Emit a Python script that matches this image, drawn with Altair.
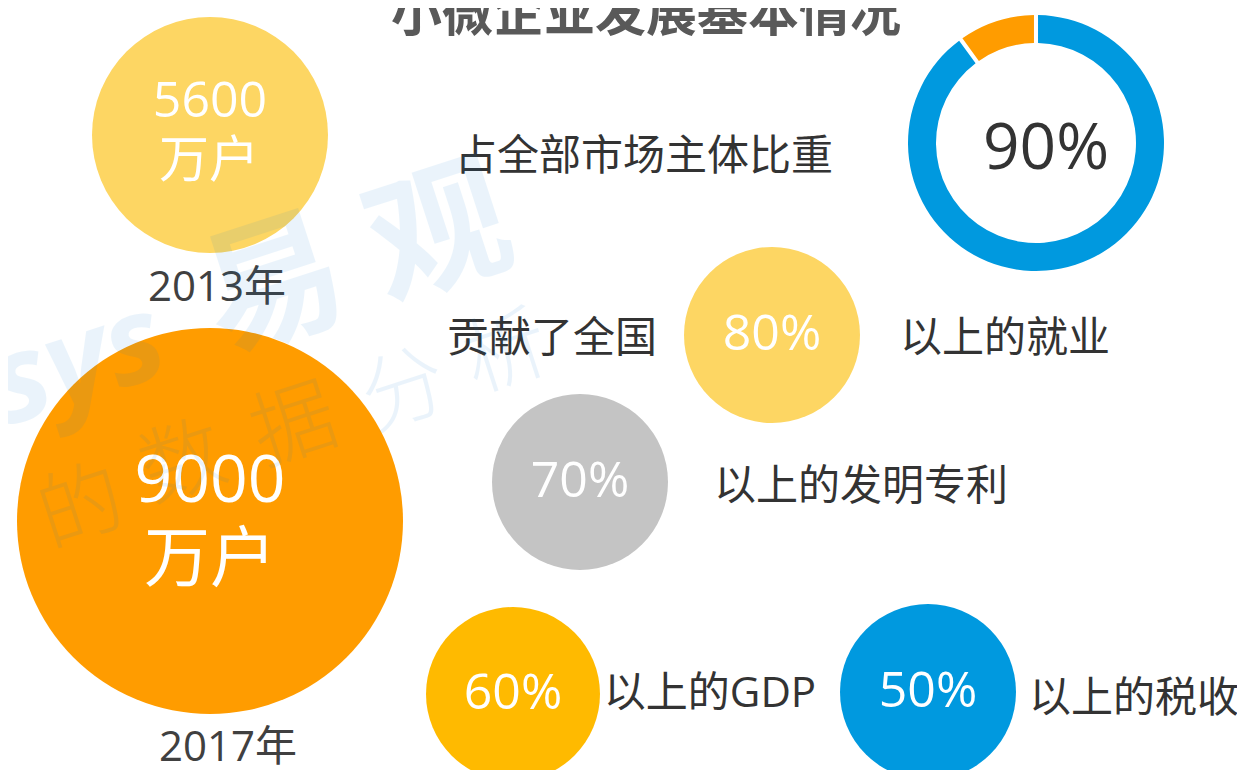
import altair as alt
import pandas as pd

# ---------------- values ----------------
TITLE = "小微企业发展基本情况"
YEARS = ["2013年", "2017年"]
FIRMS = ["5600", "9000"]
UNIT = "万户"
SHARE_LABEL = "占全部市场主体比重"
SHARE = [90, 10]
SHARE_TEXT = "90%"
CONTRIB_PREFIX = "贡献了全国"
CONTRIB_PCT = ["80%", "70%", "60%", "50%"]
CONTRIB_ITEM = ["以上的就业", "以上的发明专利", "以上的GDP", "以上的税收"]
WM_BOLD = ["易", "观"]
WM_LATIN = ["sys"]
WM_LIGHT = ["的", "数", "据", "分", "析"]

# ---------------- layout (reference pixel coordinates) ----------------
FIRM_CIRCLE = [(210, 135, 118), (210, 521, 193)]          # cx, cy, r
FIRM_NUM_POS = [(210, 102, 50), (210, 482, 66)]           # x, y, font size
FIRM_UNIT_POS = [(209, 162, 50), (210, 561, 66)]
YEAR_POS = [(217, 288, 42), (228, 748, 42)]
FIRM_COLORS = ["#FDD663", "#FF9C00"]

CONTRIB_CIRCLE = [(772, 335, 88), (580, 482, 88), (513, 694, 87), (928, 692, 88)]
CONTRIB_COLORS = ["#FDD663", "#C4C4C4", "#FFBA00", "#0099DF"]
CONTRIB_ITEM_POS = [(1005, 339), (861, 487), (710, 694), (1134, 699)]
PREFIX_POS = (552, 339)
SHARE_LABEL_POS = (644, 157)
DONUT = (1036, 143, 100, 128)
DONUT_COLORS = ["#0099DF", "#FF9C00"]
SHARE_TEXT_POS = (1046, 150, 64)
TITLE_POS = (646, 31, 51)

WM_BOLD_POS = [(275, 290), (440, 238)]
WM_LATIN_POS = [(78, 365)]
WM_LIGHT_POS = [(82, 510), (184, 465), (295, 428), (405, 393), (507, 355)]

FONT = "Open Sans, Noto Sans CJK SC"
TEXT_DARK = "#333333"

# ---------------- tables ----------------
# Vega circle symbols: size is the area of the bounding square -> (2r)^2
circles = pd.DataFrame(
    [dict(x=c[0], y=c[1], s=(2 * c[2]) ** 2, c=col) for c, col in zip(FIRM_CIRCLE, FIRM_COLORS)]
    + [dict(x=c[0], y=c[1], s=(2 * c[2]) ** 2, c=col) for c, col in zip(CONTRIB_CIRCLE, CONTRIB_COLORS)]
)

donut = pd.DataFrame(dict(x=[DONUT[0]] * 2, y=[DONUT[1]] * 2, v=SHARE, o=[0, 1], c=DONUT_COLORS))

texts = []
for t, p in zip(FIRMS, FIRM_NUM_POS):
    texts.append(dict(x=p[0], y=p[1], t=t, fs=p[2], c="#FFFFFF"))
for p in FIRM_UNIT_POS:
    texts.append(dict(x=p[0], y=p[1], t=UNIT, fs=p[2], c="#FFFFFF"))
for t, p in zip(YEARS, YEAR_POS):
    texts.append(dict(x=p[0], y=p[1], t=t, fs=p[2], c="#404040"))
for t, c in zip(CONTRIB_PCT, CONTRIB_CIRCLE):
    texts.append(dict(x=c[0], y=c[1], t=t, fs=50, c="#FFFFFF"))
for t, p in zip(CONTRIB_ITEM, CONTRIB_ITEM_POS):
    texts.append(dict(x=p[0], y=p[1], t=t, fs=42, c=TEXT_DARK))
texts.append(dict(x=PREFIX_POS[0], y=PREFIX_POS[1], t=CONTRIB_PREFIX, fs=42, c=TEXT_DARK))
texts.append(dict(x=SHARE_LABEL_POS[0], y=SHARE_LABEL_POS[1], t=SHARE_LABEL, fs=42, c=TEXT_DARK))
texts.append(dict(x=SHARE_TEXT_POS[0], y=SHARE_TEXT_POS[1], t=SHARE_TEXT, fs=SHARE_TEXT_POS[2], c=TEXT_DARK))
texts = pd.DataFrame(texts)

title_df = pd.DataFrame([dict(x=TITLE_POS[0], y=TITLE_POS[1], t=TITLE, fs=TITLE_POS[2])])

wm_bold = pd.DataFrame([dict(x=p[0], y=p[1], t=t) for t, p in zip(WM_BOLD, WM_BOLD_POS)])
wm_latin = pd.DataFrame([dict(x=p[0], y=p[1], t=t) for t, p in zip(WM_LATIN, WM_LATIN_POS)])
wm_light = pd.DataFrame([dict(x=p[0], y=p[1], t=t) for t, p in zip(WM_LIGHT, WM_LIGHT_POS)])

# ---------------- encodings ----------------
# page margin is 8px: map reference pixel (x, y) onto the plot so it lands at page (x, y)
XS = alt.Scale(domain=[8, 1237], nice=False, zero=False)
YS = alt.Scale(domain=[770, 8], nice=False, zero=False)


def X():
    return alt.X("x:Q", scale=XS, axis=None)


def Y():
    return alt.Y("y:Q", scale=YS, axis=None)


circle_layer = alt.Chart(circles).mark_circle(opacity=1).encode(
    x=X(), y=Y(),
    size=alt.Size("s:Q", scale=None, legend=None),
    color=alt.Color("c:N", scale=None, legend=None),
)

donut_layer = alt.Chart(donut).mark_arc(
    innerRadius=DONUT[2], outerRadius=DONUT[3], padAngle=0.025
).encode(
    x=X(), y=Y(),
    theta=alt.Theta("v:Q", stack=True),
    order=alt.Order("o:Q"),
    color=alt.Color("c:N", scale=None, legend=None),
)

text_layer = alt.Chart(texts).mark_text(
    font=FONT, align="center", baseline="middle"
).encode(
    x=X(), y=Y(), text="t:N",
    size=alt.Size("fs:Q", scale=None, legend=None),
    color=alt.Color("c:N", scale=None, legend=None),
)

title_layer = alt.Chart(title_df).mark_text(
    font=FONT, fontWeight="bold", align="center", baseline="alphabetic", color="#595959"
).encode(
    x=X(), y=Y(), text="t:N",
    size=alt.Size("fs:Q", scale=None, legend=None),
)

WM_COLOR = "#0078D7"
wm1 = alt.Chart(wm_bold).mark_text(
    font=FONT, fontWeight="bold", fontSize=140, angle=342, align="center", baseline="middle",
    color=WM_COLOR, opacity=0.08,
).encode(x=X(), y=Y(), text="t:N")

wm2 = alt.Chart(wm_latin).mark_text(
    font=FONT, fontWeight="bold", fontStyle="italic", fontSize=120, angle=342, align="center",
    baseline="middle", color=WM_COLOR, opacity=0.08,
).encode(x=X(), y=Y(), text="t:N")

wm3 = alt.Chart(wm_light).mark_text(
    font=FONT, fontWeight=300, fontSize=84, angle=342, align="center", baseline="middle",
    color=WM_COLOR, opacity=0.08,
).encode(x=X(), y=Y(), text="t:N")

chart = alt.layer(
    circle_layer, donut_layer, text_layer, title_layer, wm1, wm2, wm3
).properties(
    width=1229, height=762, padding=0, autosize=alt.AutoSizeParams(type="none"),
    background="#FFFFFF",
).configure_view(stroke=None)

chart.save("out.html", embed_options={"renderer": "svg", "actions": False})
